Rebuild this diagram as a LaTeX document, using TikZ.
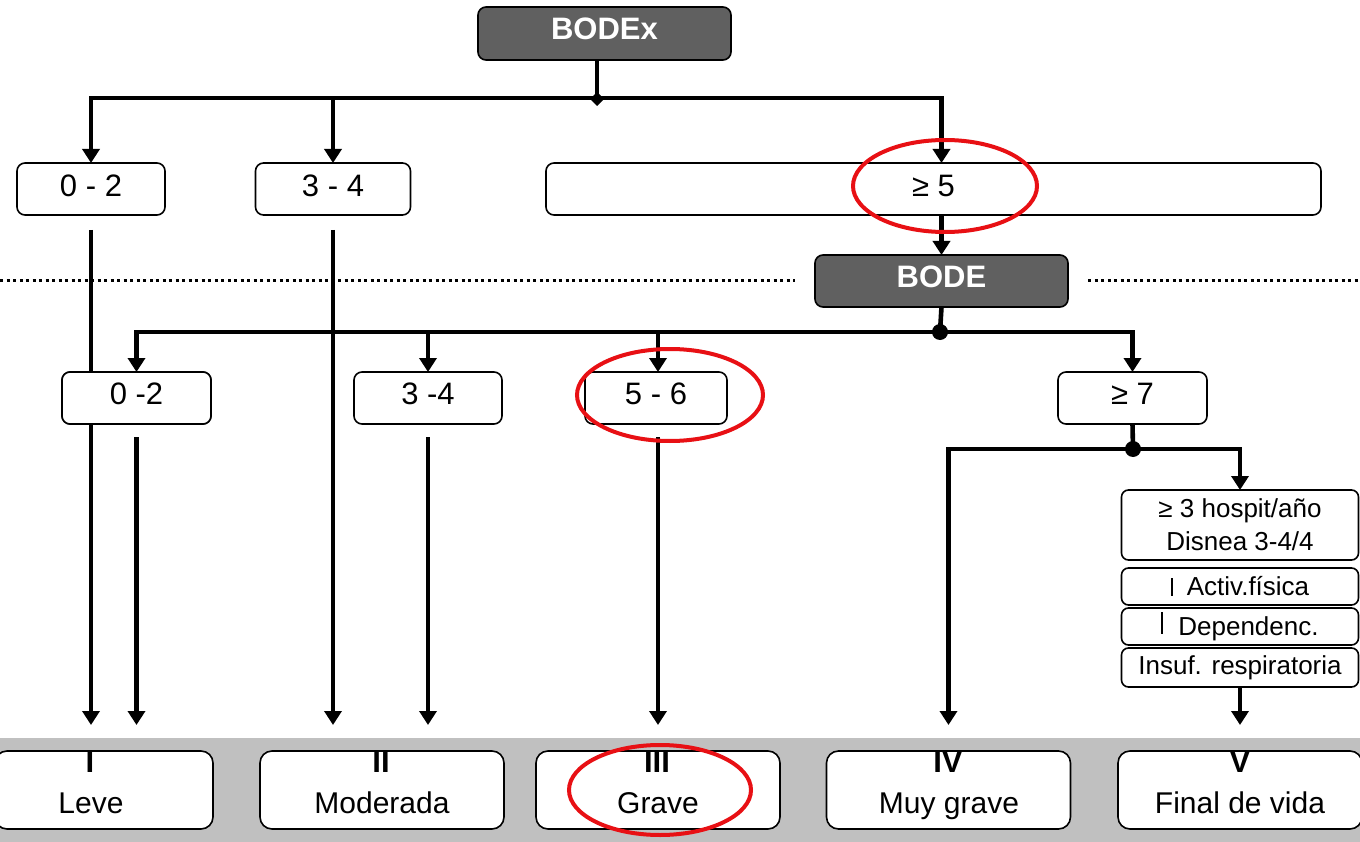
\documentclass[tikz,border=0pt]{standalone}
\usepackage{fontspec}
\setmainfont{Liberation Sans}
\usetikzlibrary{arrows.meta,shapes.geometric}
\definecolor{headfill}{RGB}{96,96,96}
\definecolor{bandgray}{RGB}{192,192,192}
\definecolor{markred}{RGB}{232,16,20}
\tikzset{
  every node/.style={inner sep=0pt, outer sep=0pt},
  head/.style={draw=black, line width=1.6pt, fill=headfill, rounded corners=8pt,
    minimum width=253pt, minimum height=53pt, text=white, text depth=10pt,
    font=\fontsize{31}{36}\selectfont\bfseries},
  scorebox/.style={draw=black, line width=1.6pt, fill=white, rounded corners=8pt,
    minimum height=52pt, text depth=6pt, font=\fontsize{31}{36}\selectfont},
  critbox/.style={draw=black, line width=1.6pt, fill=white, rounded corners=7pt,
    minimum width=237pt, font=\fontsize{26}{33}\selectfont},
  gradebox/.style={draw=black, line width=1.6pt, fill=white, rounded corners=12pt,
    minimum width=244pt, minimum height=78pt},
  numeral/.style={anchor=north, font=\fontsize{31}{36}\selectfont\bfseries},
  gradetxt/.style={anchor=base, font=\fontsize{30}{36}\selectfont},
  conn/.style={line width=4.6pt},
  arr/.style={conn, -{Triangle[length=14pt,width=17pt]}},
  hub/.style={circle, fill=black, minimum size=16pt},
  knot/.style={diamond, fill=black, minimum size=14pt},
  ring/.style={draw=markred, line width=4pt},
  dotline/.style={line width=3pt, dash pattern=on 3pt off 3.5pt},
}
\begin{document}
\begin{tikzpicture}[x=1pt, y=-1pt]
  \useasboundingbox (0,0) rectangle (1360,842);

  % grey band behind the severity grades
  \fill[bandgray] (0,738) rectangle (1360,842);

  % score headers
  \node[head] (bodex) at (604.5,33.5) {BODEx};
  \node[head, minimum height=52pt, text depth=9pt] (bode) at (941.5,281) {BODE};

  % BODEx score ranges
  \node[scorebox, minimum width=148pt] (r02) at (91,189) {0 - 2};
  \node[scorebox, minimum width=155pt] (r34) at (333,189) {3 - 4};
  \node[scorebox, minimum width=775pt] (r5) at (933.5,189) {≥ 5};

  % BODE score ranges
  \node[scorebox, minimum width=149pt, text depth=8pt] (b02) at (136.5,398) {0 -2};
  \node[scorebox, minimum width=148pt, text depth=8pt] (b34) at (428,398) {3 -4};
  \node[scorebox, minimum width=142pt, text depth=8pt] (b56) at (656,398) {5 - 6};
  \node[scorebox, minimum width=149pt, text depth=8pt] (b7) at (1132.5,398) {≥ 7};

  % end-of-life criteria
  \node[critbox, minimum height=70pt, align=center] (c1) at (1240,525)
    {≥ 3 hospit/año\\Disnea 3-4/4};
  \node[critbox, minimum height=37pt] (c3) at (1240,586.5)
    {\rule{2pt}{18pt}\hspace{14pt}Activ.física};
  \node[critbox, minimum height=37pt] (c4) at (1240,626.5)
    {\rule[2pt]{2pt}{22pt}\hspace{15pt}Dependenc.};
  \node[critbox, minimum height=39pt] (c5) at (1240,667.5)
    {Insuf. respiratoria};

  % severity grades
  \node[gradebox, minimum width=218pt] (gI) at (104,790) {};
  \node[gradebox] (gII) at (382,790) {};
  \node[gradebox] (gIII) at (658,790) {};
  \node[gradebox] (gIV) at (948.5,790) {};
  \node[gradebox] (gV) at (1240,790) {};
  \node[numeral] (nI) at (90,751) {I};
  \node[numeral] (nII) at (381,751) {II};
  \node[numeral] (nIII) at (657,751) {III};
  \node[numeral] (nIV) at (948,751) {IV};
  \node[numeral] (nV) at (1240,751) {V};
  \node[gradetxt] (tI) at (91,813) {Leve};
  \node[gradetxt] (tII) at (382,813) {Moderada};
  \node[gradetxt] (tIII) at (658,813) {Grave};
  \node[gradetxt] (tIV) at (949,813) {Muy grave};
  \node[gradetxt] (tV) at (1240,813) {Final de vida};

  % junctions and free ends
  \coordinate (j0) at (597,98);
  \coordinate (j1) at (940,332);
  \coordinate (j2) at (1133,449);
  \coordinate (bot) at (0,725);
  \coordinate (dl) at (0,281);
  \coordinate (dr) at (1360,281);

  % BODEx branching
  \draw[conn] (bodex.south -| j0) -- (j0);
  \draw[arr] (j0) -| (r02.north);
  \draw[arr] (j0) -| (r34.north);
  \draw[arr] (j0) -| (bode.north |- r5.north);
  \node[knot] at ([yshift=-1pt]j0) {};
  \draw[arr] (r5.south -| bode.north) -- (bode.north);

  % long drops from the BODEx ranges
  \draw[arr] ([yshift=-15pt]r02.south) -- (r02.south |- bot);
  \draw[arr] ([yshift=-15pt]r34.south) -- (r34.south |- bot);

  % separator between the two scores
  \draw[dotline] (dl) -- ([xshift=-20pt]bode.west);
  \draw[dotline] ([xshift=20pt]bode.east) -- (dr);

  % BODE branching
  \draw[conn] (bode.south) -- (j1);
  \draw[arr] (j1) -| (b02.north);
  \draw[arr] (j1) -| (b34.north);
  \draw[arr] (j1) -| ([xshift=2pt]b56.north);
  \draw[arr] (j1) -| (b7.north);
  \node[hub] at (j1) {};

  % the 0 -2 box sits on top of the drop from the BODEx 0 - 2 range
  \node[scorebox, minimum width=149pt, text depth=8pt] at (b02) {0 -2};

  % drops from the BODE ranges
  \draw[arr] ([yshift=-13pt]b02.south) -- (b02.south |- bot);
  \draw[arr] ([yshift=-13pt]b34.south) -- (b34.south |- bot);
  \draw[arr] ([xshift=2pt,yshift=-13pt]b56.south) -- ([xshift=2pt]b56.south |- bot);

  % split after BODE >= 7
  \draw[conn] (b7.south) -- (j2);
  \draw[arr] (j2) -| (gIV.north |- bot);
  \draw[arr] (j2) -| (c1.north);
  \node[hub] at (j2) {};
  \draw[arr] (c5.south) -- (c5.south |- bot);

  % red highlight rings
  \draw[ring] (945,186) ellipse [x radius=92pt, y radius=46pt];
  \draw[ring] (670,395) ellipse [x radius=93pt, y radius=46pt];
  \draw[ring] (660,790) ellipse [x radius=91pt, y radius=45pt];
\end{tikzpicture}
\end{document}
